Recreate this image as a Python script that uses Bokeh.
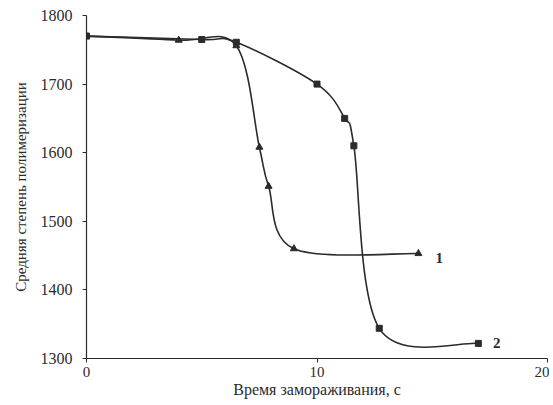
from bokeh.plotting import figure
from bokeh.models import Range1d, FixedTicker, ColumnDataSource
from bokeh.core.properties import value
from bokeh.embed import file_html
from bokeh.resources import INLINE

# Data
x1 = [0, 4, 6.5, 7.5, 7.9, 9, 14.4]
y1 = [1770, 1764, 1756, 1608, 1551, 1460, 1453]
x2 = [0, 5, 6.5, 10, 11.2, 11.6, 12.7, 17]
y2 = [1770, 1765, 1761, 1700, 1650, 1610, 1344, 1322]
x_ticks = [0, 10, 20]
y_ticks = [1300, 1400, 1500, 1600, 1700, 1800]
series_labels = ["1", "2"]
label_x = [15.3, 17.8]
label_y = [1447, 1323]
x_title = "Время замораживания, с"
y_title = "Средняя степень полимеризации"

FONT = "Liberation Serif"
INK = "#2b2b2b"


def bezier_segments(xs, ys):
    """Control points for a smoothed (Catmull-Rom style) line through data."""
    n = len(xs)
    segs = dict(x0=[], y0=[], x1=[], y1=[], cx0=[], cy0=[], cx1=[], cy1=[])
    for i in range(n - 1):
        xp, yp = (xs[i - 1], ys[i - 1]) if i > 0 else (xs[i], ys[i])
        xn2, yn2 = (xs[i + 2], ys[i + 2]) if i + 2 < n else (xs[i + 1], ys[i + 1])
        segs["x0"].append(xs[i]); segs["y0"].append(ys[i])
        segs["x1"].append(xs[i + 1]); segs["y1"].append(ys[i + 1])
        segs["cx0"].append(xs[i] + (xs[i + 1] - xp) / 6)
        segs["cy0"].append(ys[i] + (ys[i + 1] - yp) / 6)
        segs["cx1"].append(xs[i + 1] - (xn2 - xs[i]) / 6)
        segs["cy1"].append(ys[i + 1] - (yn2 - ys[i]) / 6)
    return ColumnDataSource(segs)


p = figure(width=549, height=404, output_backend="svg", toolbar_location=None,
           x_range=Range1d(0, 20), y_range=Range1d(1300, 1800),
           min_border_left=86, min_border_top=15, min_border_right=2,
           min_border_bottom=46)
p.outline_line_color = None
p.grid.grid_line_color = None
p.background_fill_color = "white"
p.border_fill_color = "white"

for ax in (p.xaxis[0], p.yaxis[0]):
    ax.axis_line_color = INK
    ax.axis_line_width = 1.2
    ax.major_tick_line_color = INK
    ax.major_tick_out = 4
    ax.major_tick_in = 0
    ax.minor_tick_line_color = None
    ax.major_label_text_font = FONT
    ax.major_label_text_color = INK
    ax.axis_label_text_font = FONT
    ax.axis_label_text_font_style = "normal"
    ax.axis_label_text_color = INK

p.yaxis.major_label_text_font_size = "16px"
p.xaxis.major_label_text_font_size = "15px"
p.yaxis.axis_label_text_font_size = "15px"
p.xaxis.axis_label_text_font_size = "16px"

p.xaxis.ticker = FixedTicker(ticks=x_ticks)
p.yaxis.ticker = FixedTicker(ticks=y_ticks)
p.xaxis.axis_label = x_title
p.yaxis.axis_label = y_title
p.xaxis.major_label_standoff = 4
p.xaxis.axis_label_standoff = 1
p.yaxis.major_label_standoff = 10
p.yaxis.axis_label_standoff = 9

s1 = bezier_segments(x1, y1)
s2 = bezier_segments(x2, y2)
for s in (s1, s2):
    p.bezier(x0="x0", y0="y0", x1="x1", y1="y1", cx0="cx0", cy0="cy0",
             cx1="cx1", cy1="cy1", source=s, line_color=INK, line_width=1.6)

p.scatter(x1, y1, marker="triangle", size=7, color=INK)
p.scatter(x2, y2, marker="square", size=6, color=INK)

p.text(label_x, label_y, text=series_labels, text_font=value(FONT),
       text_font_size="15px", text_font_style="bold", text_color=INK,
       text_align="center", text_baseline="middle")

open("out.html", "w").write(file_html(p, INLINE))
